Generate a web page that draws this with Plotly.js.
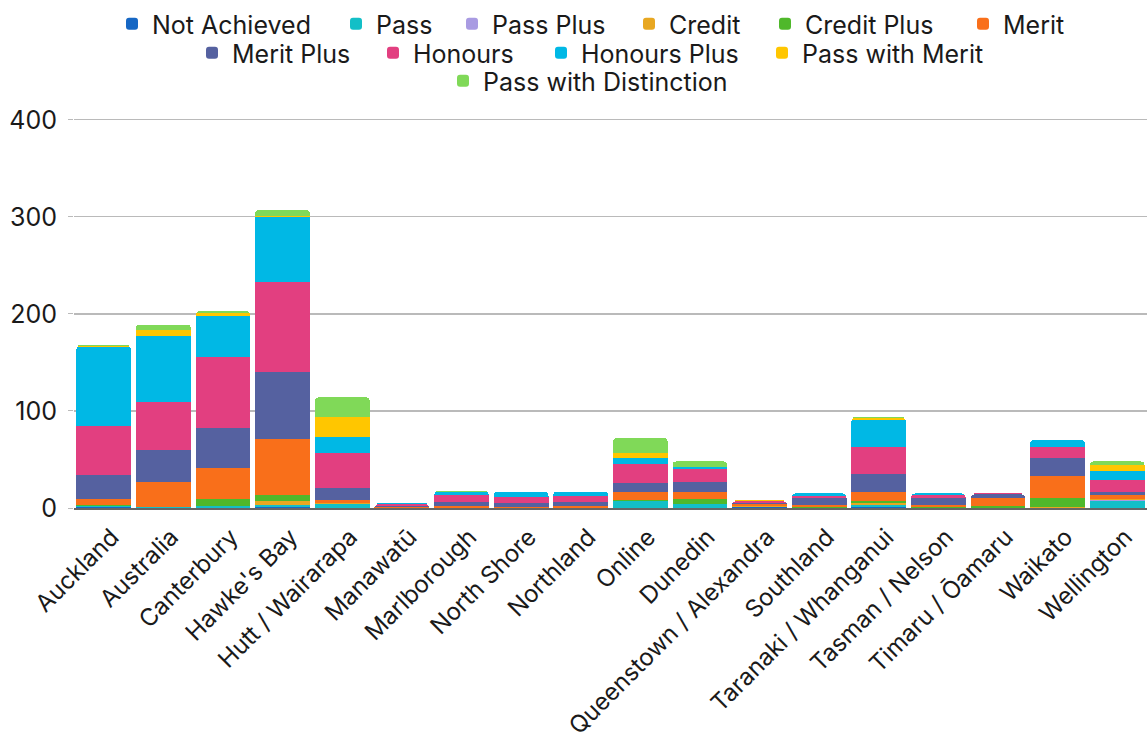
<!DOCTYPE html>
<html><head><meta charset="utf-8">
<script src="https://cdn.plot.ly/plotly-3.0.1.min.js"></script>
<style>html,body{margin:0;padding:0;background:#fff;}#chart{width:1148px;height:742px;}</style>
</head><body><div id="chart"></div>
<script>
const categories = ["Auckland","Australia","Canterbury","Hawke's Bay","Hutt / Wairarapa","Manawatū","Marlborough","North Shore","Northland","Online","Dunedin","Queenstown / Alexandra","Southland","Taranaki / Whanganui","Tasman / Nelson","Timaru / Ōamaru","Waikato","Wellington"];
const seriesNames = ["Not Achieved","Pass","Pass Plus","Credit","Credit Plus","Merit","Merit Plus","Honours","Honours Plus","Pass with Merit","Pass with Distinction"];
const notAchieved   = [1,0,0,1,0,0,0,0,0,0,0,1,0,1,0,0,0,0];
const pass          = [1,1,2,2,4,0,0,0,0,7,4,0,0,2,0,0,0,7];
const passPlus      = [0,0,0,0,0,0,0,0,0,0,0,0,0,0,0,0,0,1];
const credit        = [0,0,0,4,1,0,0,0,0,0,0,1,0,2,0,0,1,1];
const creditPlus    = [1,0,7,6,0,0,0,0,0,1,5,0,1,2,1,2,9,0];
const merit         = [6,26,32,58,3,1,2,1,2,8,7,2,2,10,2,8,23,4];
const meritPlus     = [25,33,41,69,13,1,4,4,4,10,11,1,7,18,7,4,19,4];
const honours       = [50,49,74,93,36,2,7,6,6,19,13,2,2,28,3,1,11,12];
const honoursPlus   = [82,68,42,67,16,1,3,6,5,7,2,0,3,28,2,0,7,9];
const passWithMerit = [1,6,3,1,21,0,0,0,0,5,0,1,0,2,0,0,0,6];
const passWithDist  = [1,6,2,6,20,0,2,0,0,15,6,0,0,1,0,0,0,4];
const seriesValues = [notAchieved,pass,passPlus,credit,creditPlus,merit,meritPlus,honours,honoursPlus,passWithMerit,passWithDist];
const colors = ["#1667c4","#13bfc7","#a99be2","#e8a721","#4fb82b","#f96f1a","#5561a0","#e23f80","#00b8e5","#ffc600","#80d958"];
const yTicks = [0,100,200,300,400];

// legend marker positions (pixels) for placement of per-item legends
const legendPos = [[132,24],[356,24],[472,24],[649,24],[785,24],[983,24],[212,53],[393,53],[561,53],[782,53],[463,81]];

const yMax = 408;
const W=1148,H=742, ml=74, mr=1, mb=234;
const mt = Math.round(H-mb-yMax*0.97);
const pw=W-ml-mr, ph=H-mt-mb;
const font = "Inter, Noto Sans, sans-serif";
const fs = 25;

const traces = seriesNames.map((n,i)=>({
  type:'bar', name:n, x:categories, y:seriesValues[i],
  marker:{color:colors[i], line:{width:0}},
  legend: i===0 ? 'legend' : 'legend'+(i+1),
  showlegend:true,
  hoverinfo:'x+y+name'
}));

const layout = {
  width:W, height:H,
  margin:{l:ml,r:mr,t:mt,b:mb},
  showlegend:true,
  paper_bgcolor:'#ffffff', plot_bgcolor:'#ffffff',
  barmode:'stack', bargap:0.08, barcornerradius:4,
  font:{family:font, size:fs, color:'#1a1a1a'},
  xaxis:{type:'category', categoryarray:categories, tickangle:-45, tickfont:{size:24,color:'#1a1a1a'}, showgrid:false, showline:true, linecolor:'#666666', linewidth:1.5, ticks:'', ticklabelshift:8, ticklabelstandoff:4, automargin:false},
  yaxis:{range:[0,yMax], tickvals:yTicks, ticktext:yTicks.map(String), showgrid:true, gridcolor:'#bababa', gridwidth:1.3, zeroline:false, ticks:'outside', ticklen:5, tickcolor:'#bababa', ticklabelstandoff:6, tickfont:{size:fs,color:'#1a1a1a'}, automargin:false}
};
legendPos.forEach((p,i)=>{
  const key = i===0 ? 'legend' : 'legend'+(i+1);
  layout[key] = {
    x:(p[0]-20-ml)/pw, xanchor:'left', xref:'paper',
    y:(H-mb-p[1])/ph, yanchor:'middle', yref:'paper',
    orientation:'h', bgcolor:'rgba(0,0,0,0)', borderwidth:0, visible:true,
    font:{family:font,size:fs,color:'#1a1a1a'}, itemclick:false
  };
});
Plotly.newPlot('chart', traces, layout, {displayModeBar:false, staticPlot:true});
</script></body></html>
